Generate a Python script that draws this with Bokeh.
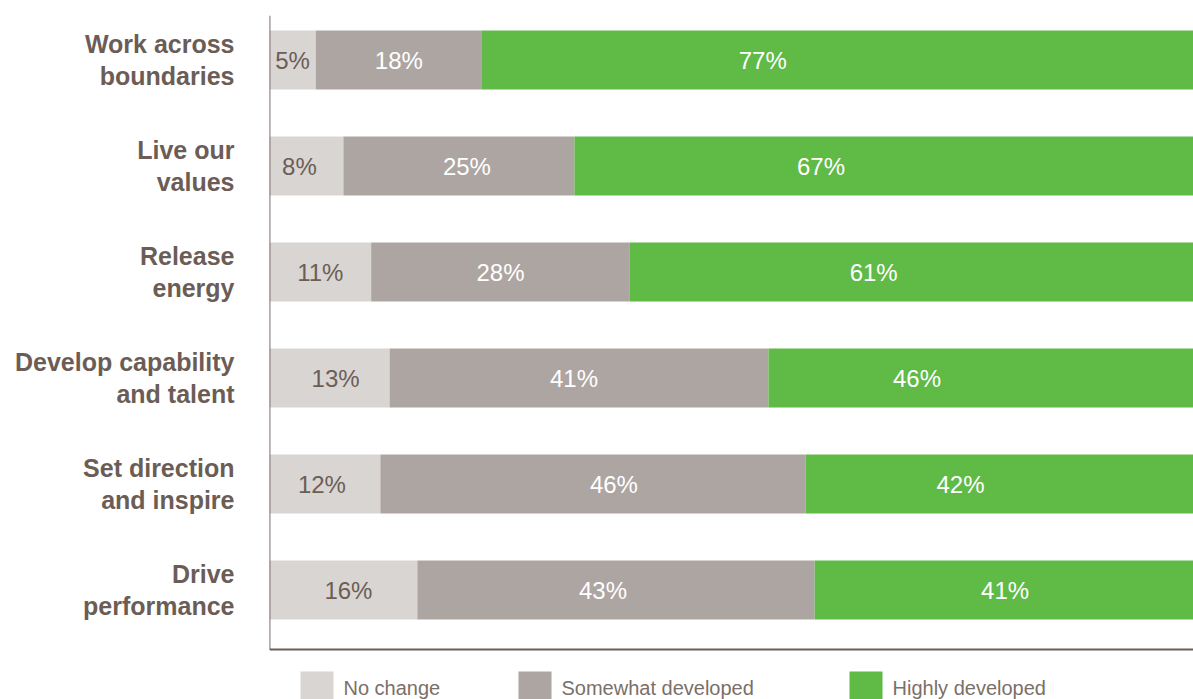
from bokeh.plotting import figure
from bokeh.models import FixedTicker, ColumnDataSource, Range1d
from bokeh.core.properties import value
from bokeh.embed import file_html
from bokeh.resources import INLINE

# Share of respondents by leadership capability
categories = [
    "Work across\nboundaries",
    "Live our\nvalues",
    "Release\nenergy",
    "Develop capability\nand talent",
    "Set direction\nand inspire",
    "Drive\nperformance",
]
no_change = [5, 8, 11, 13, 12, 16]
somewhat_developed = [18, 25, 28, 41, 46, 43]
highly_developed = [77, 67, 61, 46, 42, 41]

series_names = ["No change", "Somewhat developed", "Highly developed"]
series_values = [no_change, somewhat_developed, highly_developed]
series_colors = ["#d9d5d2", "#ada5a1", "#5fba46"]
label_colors = ["#6b5e57", "#ffffff", "#ffffff"]

# hand-tuned horizontal nudges (px) of the value labels from segment centres
label_nudges = [
    [0, -7, 0, 6, -3, 5],
    [0, 8, 0, -5, 21, -13],
    [-75, -63, -38, -64, -39, 1],
]

FONT = "Liberation Sans"
TEXT_DARK = "#6b5d56"

W, H = 1193, 699
LEFT, TOP = 269, 15
ROW_PX = 106.0
y_top = -0.42
y_bottom = y_top + (H - TOP) / ROW_PX
px_x = 100.0 / (W - LEFT)      # data units per pixel, horizontal
px_y = 1.0 / ROW_PX            # data units per pixel, vertical

p = figure(
    width=W, height=H,
    x_range=Range1d(0, 100), y_range=Range1d(y_bottom, y_top),
    x_axis_location=None,
    output_backend="svg", toolbar_location=None,
    min_border_left=LEFT, min_border_top=TOP,
    min_border_right=0, min_border_bottom=0,
)
p.outline_line_color = None
p.grid.visible = False
p.background_fill_color = "white"
p.border_fill_color = "white"

rows = list(range(len(categories)))

# stacked segments
left = [0.0] * len(rows)
for name, vals, col, lcol, nudge in zip(series_names, series_values, series_colors,
                                         label_colors, label_nudges):
    right = [l + v for l, v in zip(left, vals)]
    src = ColumnDataSource(dict(
        y=rows, left=left, right=right,
        mid=[(l + r) / 2 for l, r in zip(left, right)],
        dx=nudge,
        txt=[f"{v}%" for v in vals],
    ))
    p.hbar(y="y", left="left", right="right", height=59 / ROW_PX,
           source=src, fill_color=col, line_color=None)
    p.text(x="mid", y="y", text="txt", x_offset="dx", source=src,
           text_align="center", text_baseline="middle",
           text_font=value(FONT), text_font_size="24px", text_color=lcol)
    left = right

# axis lines
base_y = y_top + (649 - TOP) / ROW_PX
p.segment(x0=[0], y0=[y_top], x1=[0], y1=[base_y], line_color="#6b5e57", line_width=1.8)
p.segment(x0=[0], y0=[base_y], x1=[100], y1=[base_y], line_color="#6b5e57", line_width=1.8)

# category axis
ax = p.yaxis[0]
ax.ticker = FixedTicker(ticks=rows)
ax.major_label_overrides = {i: c for i, c in enumerate(categories)}
ax.axis_line_color = None
ax.major_tick_line_color = None
ax.minor_tick_line_color = None
ax.major_tick_out = 0
ax.major_tick_in = 0
ax.major_label_standoff = 35
ax.major_label_text_font = FONT
ax.major_label_text_font_style = "bold"
ax.major_label_text_font_size = "25px"
ax.major_label_text_line_height = 1.12
ax.major_label_text_color = TEXT_DARK

# legend
leg_sq_left = [300, 518, 849]
sq = 33
leg_y = y_top + (671 + sq / 2 - TOP) / ROW_PX
leg_src = ColumnDataSource(dict(
    x=[(x - LEFT + sq / 2) * px_x for x in leg_sq_left],
    tx=[(x - LEFT + sq + 10) * px_x for x in leg_sq_left],
    y=[leg_y] * 3,
    color=series_colors,
    name=series_names,
))
p.rect(x="x", y="y", width=sq * px_x, height=sq * px_y, source=leg_src,
       fill_color="color", line_color=None)
p.text(x="tx", y="y", text="name", source=leg_src,
       text_align="left", text_baseline="middle",
       text_font=value(FONT), text_font_size="20px", text_color="#7b6f69")

open("out.html", "w").write(file_html(p, INLINE))
